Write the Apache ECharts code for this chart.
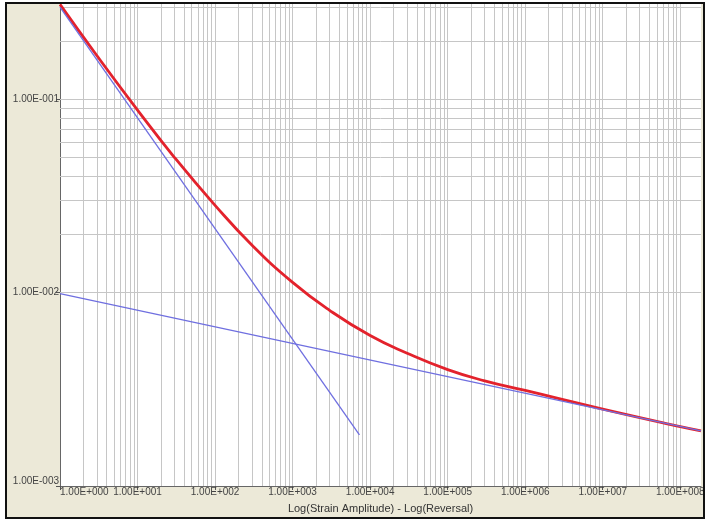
<!DOCTYPE html>
<html>
<head>
<meta charset="utf-8">
<script src="https://cdn.jsdelivr.net/npm/echarts@6/dist/echarts.min.js"></script>
<style>
  html, body { margin: 0; padding: 0; background: #fff; }
  #chart { width: 708px; height: 519px; }
</style>
</head>
<body>
<div id="chart"></div>
<script>
// reversals (2N) and total strain amplitude
var reversals = [1, 3, 10, 30, 100, 300, 1000, 3000, 1e4, 3e4, 1e5, 3e5, 1e6, 1e7, 1e8, 1.85e8];
var totalStrain = [0.310, 0.168, 0.088, 0.050, 0.0283, 0.0176, 0.0113, 0.0081, 0.0060, 0.00486, 0.0040, 0.0035, 0.00312, 0.00250, 0.00203, 0.00193];

// plastic (steep) and elastic (shallow) straight lines, end points
var plasticX = [1, 7280];
var plasticY = [0.30, 0.00184];
var elasticX = [1, 1.85e8];
var elasticY = [0.00988, 0.00193];

// grid lines: mantissas 1..9 for each decade
var mantissas = [1, 2, 3, 4, 5, 6, 7, 8, 9];
var xDecades = [0, 1, 2, 3, 4, 5, 6, 7, 8];
var yDecades = [-3, -2, -1];

var xMin = 1, xMax = 1.85e8;
var yMin = 0.001, yMax = 0.315;

function sci(v) {
    var e = Math.round(Math.log10(v));
    var m = v / Math.pow(10, e);
    return m.toFixed(2) + 'E' + (e < 0 ? '-' : '+') + String(Math.abs(e)).padStart(3, '0');
}

function pairs(xs, ys) {
    return xs.map(function (x, i) { return [x, ys[i]]; });
}

var gridLines = [];
xDecades.forEach(function (d) {
    mantissas.forEach(function (m) {
        var v = m * Math.pow(10, d);
        if (v > xMin && v <= xMax) gridLines.push({ xAxis: v });
    });
});
yDecades.forEach(function (d) {
    mantissas.forEach(function (m) {
        var v = m * Math.pow(10, d);
        if (v > yMin && v <= yMax) gridLines.push({ yAxis: v });
    });
});

var myChart = echarts.init(document.getElementById('chart'));

var option = {
    backgroundColor: '#fff',
    animation: false,
    textStyle: { fontFamily: 'Liberation Sans, Arial, sans-serif' },
    graphic: [
        { type: 'rect', z: -100, shape: { x: 6, y: 3, width: 698, height: 515 },
          style: { fill: '#ECE9D8' } },
        { type: 'rect', z: 100, silent: true, shape: { x: 6, y: 3, width: 698, height: 515 },
          style: { fill: 'none', stroke: '#111', lineWidth: 2 } }
    ],
    grid: {
        left: 60, right: 7, top: 3, bottom: 31,
        show: true, backgroundColor: '#fff', borderWidth: 0
    },
    xAxis: {
        type: 'log', logBase: 10, min: xMin, max: xMax,
        name: 'Log(Strain Amplitude) - Log(Reversal)',
        nameLocation: 'middle', nameGap: 17,
        nameTextStyle: { fontSize: 11, color: '#333' },
        axisLine: { lineStyle: { color: '#666' } },
        axisTick: { length: 4, lineStyle: { color: '#555' } },
        axisLabel: {
            fontSize: 10, color: '#444', margin: 1,
            showMaxLabel: false, alignMinLabel: 'left',
            formatter: sci
        },
        splitLine: { show: false },
        minorTick: { show: false }
    },
    yAxis: {
        type: 'log', logBase: 10, min: yMin, max: yMax,
        axisLine: { show: true, lineStyle: { color: '#666' } },
        axisTick: { show: true, length: 4, lineStyle: { color: '#555' } },
        axisLabel: {
            fontSize: 10, color: '#444', margin: 1,
            showMaxLabel: false, verticalAlignMinLabel: 'bottom',
            formatter: sci
        },
        splitLine: { show: false }
    },
    series: [
        {
            name: 'grid', type: 'line', data: [], silent: true, z: 1,
            markLine: {
                z: 1, silent: true, symbol: ['none', 'none'], animation: false,
                label: { show: false },
                lineStyle: { color: '#c6c6c6', width: 1, type: 'solid' },
                data: gridLines
            }
        },
        {
            name: 'total', type: 'line', symbol: 'none', smooth: true, z: 3,
            lineStyle: { color: '#e3222c', width: 2.8 },
            data: pairs(reversals, totalStrain)
        },
        {
            name: 'plastic', type: 'line', symbol: 'none', z: 4,
            lineStyle: { color: '#6f6fe0', width: 1.3 },
            data: pairs(plasticX, plasticY)
        },
        {
            name: 'elastic', type: 'line', symbol: 'none', z: 4,
            lineStyle: { color: '#6f6fe0', width: 1.3 },
            data: pairs(elasticX, elasticY)
        }
    ]
};

myChart.setOption(option);
</script>
</body>
</html>
